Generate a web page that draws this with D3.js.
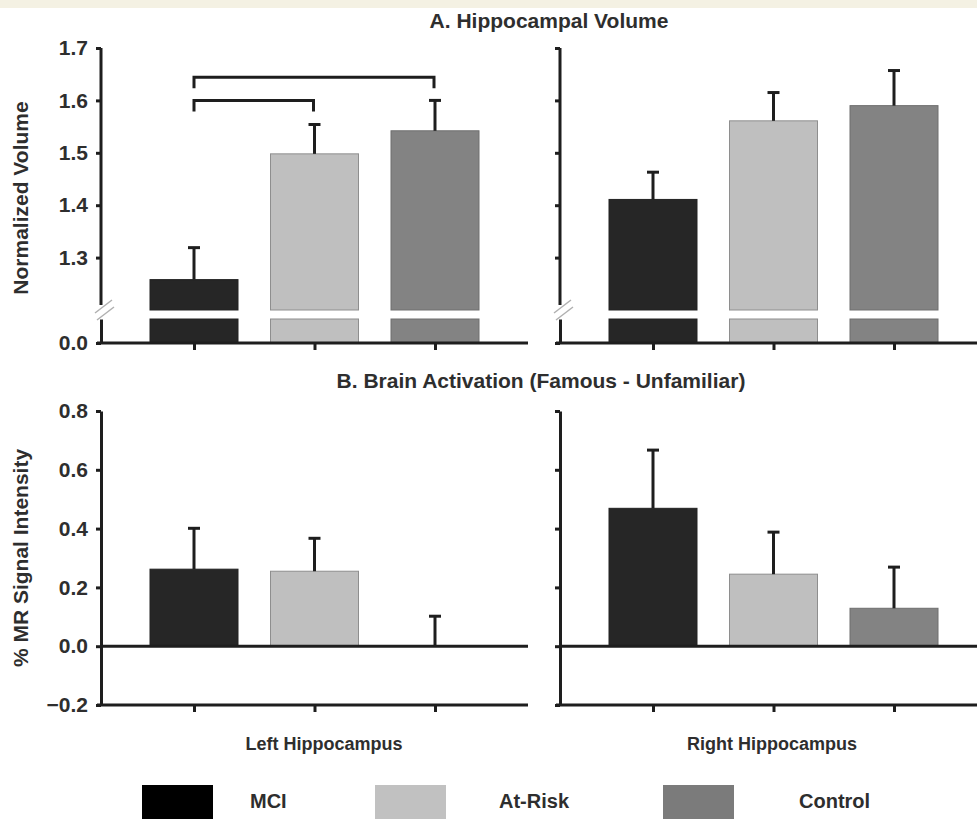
<!DOCTYPE html>
<html>
<head>
<meta charset="utf-8">
<script src="https://cdn.jsdelivr.net/npm/d3@7"></script>
<style>
  body { margin: 0; background: #fff; }
  text { font-family: "Liberation Sans", Arial, sans-serif; font-weight: bold; fill: #2e2e2e; }
</style>
</head>
<body>
<div id="chart-container"></div>
<script>
// data
const groups = ["MCI", "At-Risk", "Control"];
const barColors = ["#262626", "#bfbfbf", "#838383"];
const legendColors = ["#000000", "#c1c1c1", "#7b7b7b"];

const volLeft = [1.258, 1.498, 1.542];
const volLeftErr = [0.061, 0.056, 0.058];
const volRight = [1.411, 1.561, 1.590];
const volRightErr = [0.052, 0.054, 0.067];

const actLeft = [0.262, 0.255, 0.0];
const actLeftErr = [0.139, 0.112, 0.102];
const actRight = [0.469, 0.245, 0.129];
const actRightErr = [0.198, 0.143, 0.140];

const volTicks = [1.3, 1.4, 1.5, 1.6, 1.7];
const actTicks = [-0.2, 0, 0.2, 0.4, 0.6, 0.8];

// significance brackets on left volume panel
const brackets = [
  { from: "MCI", to: "Control", level: 1.644 },
  { from: "MCI", to: "At-Risk", level: 1.600 }
];

const sides = ["Left Hippocampus", "Right Hippocampus"];

const w = 977;
const h = 819;
const panelX = [101, 560];
const panelW = 427;
const barW = 88;
const axisColor = "#1e1e1e";

const svg = d3.select("#chart-container")
  .append("svg")
  .attr("width", w)
  .attr("height", h);

svg.append("rect").attr("x", 0).attr("y", 0).attr("width", w).attr("height", 8).attr("fill", "#f4f1e3");

const x = d3.scalePoint().domain(groups).range([93, 334]);

// top panel scales (broken axis)
const breakAt = 1.2;
const yTop = d3.scaleLinear().domain([breakAt, 1.7]).range([310, 48]);
const yLow = d3.scaleLinear().domain([0, breakAt]).range([343, 319]);
// bottom panel scale
const yBot = d3.scaleLinear().domain([-0.2, 0.8]).range([705, 411]);

function styleAxis(g) {
  g.selectAll(".domain").attr("stroke", axisColor).attr("stroke-width", 3);
  g.selectAll(".tick line").attr("stroke", axisColor).attr("stroke-width", 3);
  g.selectAll(".tick text").style("font-size", "21px").style("font-family", "'Liberation Sans', Arial, sans-serif").style("font-weight", "bold").attr("fill", "#2e2e2e");
}

function errorBars(g, vals, errs, y) {
  const eb = g.selectAll(".err").data(groups).join("g").attr("class", "err");
  eb.append("line")
    .attr("x1", d => x(d)).attr("x2", d => x(d))
    .attr("y1", (d, i) => y(vals[i]))
    .attr("y2", (d, i) => y(vals[i] + errs[i]))
    .attr("stroke", axisColor).attr("stroke-width", 3);
  eb.append("line")
    .attr("x1", d => x(d) - 6).attr("x2", d => x(d) + 6)
    .attr("y1", (d, i) => y(vals[i] + errs[i]))
    .attr("y2", (d, i) => y(vals[i] + errs[i]))
    .attr("stroke", axisColor).attr("stroke-width", 3);
}

function barStroke(i) {
  return i === 0 ? "#222" : (i === 1 ? "#8e8e8e" : "#6e6e6e");
}

// ---------- A. Hippocampal Volume ----------
[volLeft, volRight].forEach((vals, p) => {
  const errs = p === 0 ? volLeftErr : volRightErr;
  const g = svg.append("g").attr("transform", `translate(${panelX[p]},0)`);

  // upper part of bars
  g.selectAll(".barTop").data(groups).join("rect")
    .attr("x", d => x(d) - barW / 2)
    .attr("y", (d, i) => yTop(vals[i]))
    .attr("width", barW)
    .attr("height", (d, i) => yTop(breakAt) - yTop(vals[i]))
    .attr("fill", (d, i) => barColors[i])
    .attr("stroke", (d, i) => barStroke(i)).attr("stroke-width", 1);
  // lower part of bars
  g.selectAll(".barLow").data(groups).join("rect")
    .attr("x", d => x(d) - barW / 2)
    .attr("y", yLow(breakAt))
    .attr("width", barW)
    .attr("height", yLow(0) - yLow(breakAt))
    .attr("fill", (d, i) => barColors[i])
    .attr("stroke", (d, i) => barStroke(i)).attr("stroke-width", 1);

  errorBars(g, vals, errs, yTop);

  const axUp = g.append("g").call(d3.axisLeft(yTop).tickValues(volTicks).tickSize(5).tickSizeOuter(0).tickPadding(8).tickFormat(d3.format(".1f")));
  const axLow = g.append("g").call(d3.axisLeft(yLow).tickValues([0]).tickSize(5).tickSizeOuter(0).tickPadding(8).tickFormat(d3.format(".1f")));
  styleAxis(axUp); styleAxis(axLow);
  axUp.select(".domain").attr("d", `M0,${yTop(1.7)}V${yTop(breakAt) - 5}`);
  if (p === 1) { axUp.selectAll(".tick text").remove(); axLow.selectAll(".tick text").remove(); }

  // break marks
  g.append("line").attr("x1", -6).attr("y1", 313).attr("x2", 11).attr("y2", 300).attr("stroke", "#b0b0b0").attr("stroke-width", 1.5);
  g.append("line").attr("x1", -4).attr("y1", 320).attr("x2", 13).attr("y2", 307).attr("stroke", "#b0b0b0").attr("stroke-width", 1.5);

  const xb = g.append("g").attr("transform", `translate(0,${yLow(0)})`)
    .call(d3.axisBottom(x).tickSize(7).tickSizeOuter(0).tickFormat(""));
  styleAxis(xb);
  xb.select(".domain").attr("d", `M-4,0H${panelW}`);
});

// significance brackets
const gb = svg.append("g").attr("transform", `translate(${panelX[0]},0)`);
gb.selectAll("path.br").data(brackets).join("path")
  .attr("d", d => `M${x(d.from)},${yTop(d.level) + 11}V${yTop(d.level)}H${x(d.to) - 1}V${yTop(d.level) + 11}`)
  .attr("fill", "none").attr("stroke", axisColor).attr("stroke-width", 3);

svg.append("text").attr("x", 549).attr("y", 28).attr("text-anchor", "middle").style("font-size", "21px").text("A. Hippocampal Volume");
svg.append("text").attr("transform", "translate(28,198) rotate(-90)").attr("text-anchor", "middle").style("font-size", "21px").text("Normalized Volume");

// ---------- B. Brain Activation ----------
[actLeft, actRight].forEach((vals, p) => {
  const errs = p === 0 ? actLeftErr : actRightErr;
  const g = svg.append("g").attr("transform", `translate(${panelX[p]},0)`);

  g.selectAll(".bar").data(groups).join("rect")
    .attr("x", d => x(d) - barW / 2)
    .attr("y", (d, i) => yBot(Math.max(0, vals[i])))
    .attr("width", barW)
    .attr("height", (d, i) => Math.abs(yBot(0) - yBot(vals[i])))
    .attr("fill", (d, i) => barColors[i])
    .attr("stroke", (d, i) => vals[i] === 0 ? "none" : barStroke(i)).attr("stroke-width", 1);

  errorBars(g, vals, errs, yBot);

  const ay = g.append("g").call(d3.axisLeft(yBot).tickValues(actTicks).tickSize(5).tickSizeOuter(0).tickPadding(8).tickFormat(d3.format(".1f")));
  styleAxis(ay);
  if (p === 1) ay.selectAll(".tick text").remove();

  // zero line
  g.append("line").attr("x1", 0).attr("x2", panelW).attr("y1", yBot(0)).attr("y2", yBot(0))
    .attr("stroke", axisColor).attr("stroke-width", 3);

  const xb = g.append("g").attr("transform", `translate(0,${yBot(-0.2)})`)
    .call(d3.axisBottom(x).tickSize(7).tickSizeOuter(0).tickFormat(""));
  styleAxis(xb);
  xb.select(".domain").attr("d", `M-4,0H${panelW}`);
});

svg.append("text").attr("x", 541).attr("y", 388).attr("text-anchor", "middle").style("font-size", "21px").text("B. Brain Activation (Famous - Unfamiliar)");
svg.append("text").attr("transform", "translate(28,558) rotate(-90)").attr("text-anchor", "middle").style("font-size", "21px").text("% MR Signal Intensity");

// x labels
const sideX = [324, 772];
svg.selectAll(".side").data(sides).join("text")
  .attr("x", (d, i) => sideX[i]).attr("y", 750)
  .attr("text-anchor", "middle").style("font-size", "18px")
  .text(d => d);

// legend
const legSwX = [142, 375, 663];
const legTxtX = [250, 499, 799];
const leg = svg.append("g");
leg.selectAll("rect").data(groups).join("rect")
  .attr("x", (d, i) => legSwX[i]).attr("y", 785)
  .attr("width", 71).attr("height", 40)
  .attr("fill", (d, i) => legendColors[i]);
leg.selectAll("text").data(groups).join("text")
  .attr("x", (d, i) => legTxtX[i]).attr("y", 808)
  .style("font-size", "20px")
  .text(d => d);
</script>
</body>
</html>
